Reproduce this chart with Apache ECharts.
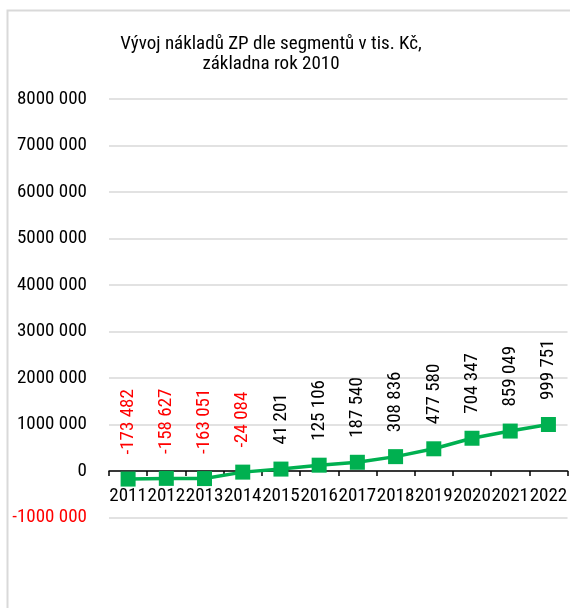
<!DOCTYPE html>
<html><head><meta charset="utf-8">
<script src="https://cdn.jsdelivr.net/npm/echarts@6/dist/echarts.min.js"></script>
<style>html,body{margin:0;padding:0;background:#fff}#c{width:570px;height:608px}</style>
</head><body><div id="c"></div>
<script>
const titleLines = ["Vývoj nákladů ZP dle segmentů v tis. Kč,", "základna rok 2010"];
const years = ["2011","2012","2013","2014","2015","2016","2017","2018","2019","2020","2021","2022"];
const values = [-173482, -158627, -163051, -24084, 41201, 125106, 187540, 308836, 477580, 704347, 859049, 999751];
const yMin = -1000000, yMax = 8000000, yStep = 1000000;

const FONT = "'Liberation Sans Narrow','Arial Narrow','Roboto Condensed',Roboto,'Liberation Sans',sans-serif";
function fmt(v){
  const neg = v < 0; const a = Math.abs(Math.round(v)); let s = String(a);
  if (s.length > 3) s = s.slice(0, s.length-3) + ' ' + s.slice(-3);
  return (neg ? '-' : '') + s;
}
const gridTop = 99, gridBottom = 90.5;
const plotH = 608 - gridTop - gridBottom;
// offset of zero line above the bottom of the grid, derived from the axis range
const zeroOffset = plotH * (0 - yMin) / (yMax - yMin);

const chart = echarts.init(document.getElementById('c'), null, {renderer:'canvas'});
chart.setOption({
  backgroundColor:'#fff',
  animation:false,
  graphic:[{type:'rect', shape:{x:7.5,y:10.5,width:700,height:700}, style:{fill:'none', stroke:'#d9d9d9', lineWidth:2}, silent:true}],
  title:{text:titleLines.join('\n'), left:266, textAlign:'center', top:29,
    textStyle:{fontFamily:FONT, fontSize:19, fontWeight:'normal', color:'#000', lineHeight:20}},
  grid:{left:109, right:-2, top:gridTop, bottom:gridBottom, containLabel:false},
  xAxis:{type:'category', data:years, boundaryGap:true, position:'bottom', offset:-zeroOffset,
    axisLine:{show:true, onZero:false, lineStyle:{color:'#000', width:1.5}},
    axisTick:{show:true, length:5, lineStyle:{color:'#000', width:1.5}},
    axisLabel:{fontFamily:FONT, fontSize:19, color:'#000', margin:16, interval:0},
    splitLine:{show:false}},
  yAxis:{type:'value', min:yMin, max:yMax, interval:yStep,
    axisLine:{show:false}, axisTick:{show:false},
    axisLabel:{fontFamily:FONT, fontSize:19, margin:22, formatter:v=>fmt(v),
      color:(v)=> (Number(v) < 0 ? '#FF0000' : '#000')},
    splitLine:{lineStyle:{color:'#d9d9d9', width:1.5}}},
  series:[{type:'line', data:values.map(v=>({value:v, label:{color: v<0 ? '#FF0000' : '#000'}})),
    symbol:'rect', symbolSize:15, z:3,
    lineStyle:{color:'#00B050', width:3.5}, itemStyle:{color:'#00B050'},
    label:{show:true, position:'top', rotate:90, align:'left', verticalAlign:'middle', distance:17,
      fontFamily:FONT, fontSize:19, formatter:p=>fmt(p.value)}}]
});
</script></body></html>
